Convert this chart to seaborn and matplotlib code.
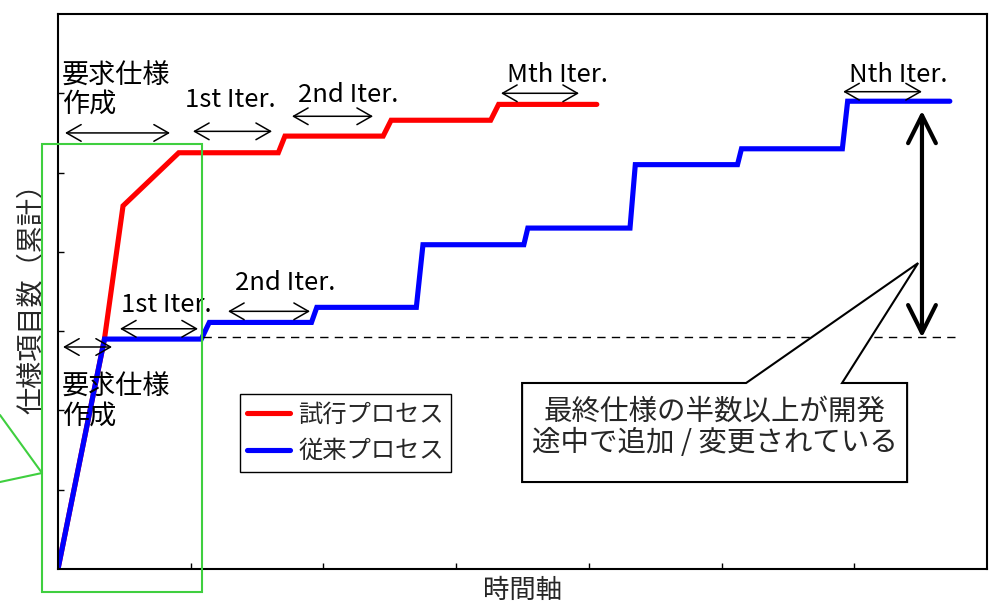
import matplotlib
matplotlib.use("Agg")
import matplotlib.pyplot as plt
import seaborn as sns
import pandas as pd
from matplotlib.patches import Polygon, Rectangle
from matplotlib.lines import Line2D

# ---------------- data ----------------
trial_x = [0, 0.35, 0.49, 0.91, 1.66, 1.71, 2.45, 2.51, 3.26, 3.32, 4.06]
trial_y = [0, 2.90, 4.58, 5.25, 5.25, 5.46, 5.46, 5.66, 5.66, 5.86, 5.86]
conv_x = [0, 0.35, 1.08, 1.14, 1.91, 1.95, 2.70, 2.75, 3.51, 3.54, 4.31, 4.35, 5.12, 5.15, 5.91, 5.95, 6.72]
conv_y = [0, 2.90, 2.90, 3.11, 3.11, 3.30, 3.30, 4.09, 4.09, 4.30, 4.30, 5.10, 5.10, 5.30, 5.30, 5.90, 5.90]
series_names = ["試行プロセス", "従来プロセス"]
series_colors = ["#ff0000", "#0000ff"]
baseline_x = [1.09, 6.76]
baseline_y = [2.92, 2.92]
xlabel = "時間軸"
ylabel = "仕様項目数（累計）"
callout_text = "最終仕様の半数以上が開発\n途中で追加 / 変更されている"

df = pd.concat([
    pd.DataFrame({"t": trial_x, "v": trial_y, "series": series_names[0]}),
    pd.DataFrame({"t": conv_x, "v": conv_y, "series": series_names[1]}),
], ignore_index=True)

# ---------------- style ----------------
sns.set_style("white")
plt.rcParams["font.family"] = ["Noto Sans CJK JP", "DejaVu Sans"]

fig = plt.figure(figsize=(9.99, 6.07), dpi=100)
W, H = 999, 607
ax = fig.add_axes([58 / W, 1 - 569 / H, (987 - 58) / W, (569 - 14) / H])

sns.lineplot(data=df, x="t", y="v", hue="series", hue_order=series_names,
             palette=series_colors, sort=False, estimator=None, lw=3.7,
             ax=ax, legend=True)
for ln in ax.lines:
    ln.set_solid_capstyle("round")
    ln.set_solid_joinstyle("miter")

ax.plot(baseline_x, baseline_y, color="black", lw=1.0, ls=(0, (6, 4.5)))

ax.set_xlim(0, 7)
ax.set_ylim(0, 7)
ax.set_xticks([1, 2, 3, 4, 5, 6])
ax.set_yticks([1, 2, 3, 4, 5, 6])
ax.set_xticklabels([])
ax.set_yticklabels([])
ax.tick_params(direction="in", length=4, width=1, colors="black",
               bottom=True, left=True, top=False, right=False)
for s in ax.spines.values():
    s.set_color("black")
    s.set_linewidth(1.5)

ax.set_xlabel(xlabel, fontsize=19, labelpad=2)
ax.set_ylabel(ylabel, fontsize=19.5, labelpad=6)

# legend
h, l = ax.get_legend_handles_labels()
leg = ax.legend(h, l, loc="upper left", bbox_to_anchor=(0.196, 0.315),
                fontsize=17.5, frameon=True, fancybox=False, edgecolor="black",
                framealpha=1, borderaxespad=0, handlelength=1.75,
                handletextpad=0.35, borderpad=0.3, labelspacing=0.45)
leg.get_frame().set_linewidth(1.0)
for lh in leg.get_lines():
    lh.set_linewidth(3.7)

# ---------------- annotations ----------------
def darrow(x0, x1, y):
    ax.annotate("", xy=(x1, y), xytext=(x0, y),
                arrowprops=dict(arrowstyle="<->,head_length=0.7,head_width=0.4",
                                mutation_scale=15, lw=1.1, color="black",
                                shrinkA=0, shrinkB=0))

jp = dict(fontsize=19.5, color="black", linespacing=1.05)
it = dict(fontsize=18.5, color="black", ha="center", va="center")

# upper (trial process)
ax.text(0.03, 6.04, "要求仕様\n作成", ha="left", va="center", **jp)
darrow(0.053, 0.844, 5.50)
ax.text(1.30, 5.91, "1st Iter.", **it)
darrow(1.017, 1.613, 5.52)
ax.text(2.19, 5.98, "2nd Iter.", **it)
darrow(1.763, 2.374, 5.71)
ax.text(3.76, 6.23, "Mth Iter.", **it)
darrow(3.338, 3.926, 6.00)
ax.text(6.33, 6.23, "Nth Iter.", **it)
darrow(5.916, 6.51, 6.02)

# lower (conventional process)
ax.text(0.03, 2.11, "要求仕様\n作成", ha="left", va="center", **jp)
darrow(0.038, 0.407, 2.80)
ax.text(0.814, 3.33, "1st Iter.", **it)
darrow(0.467, 1.055, 3.03)
ax.text(1.71, 3.61, "2nd Iter.", **it)
darrow(1.281, 1.899, 3.25)

# thick double arrow
ax.annotate("", xy=(6.51, 5.78), xytext=(6.51, 2.92),
            arrowprops=dict(arrowstyle="<->,head_length=1.0,head_width=0.5",
                            mutation_scale=20, lw=3, color="black",
                            shrinkA=0, shrinkB=0))

# callout bubble
bubble = Polygon([(3.497, 2.346), (5.185, 2.346), (6.481, 3.859), (5.908, 2.346),
                  (6.398, 2.346), (6.398, 1.097), (3.497, 1.097)],
                 closed=True, facecolor="white", edgecolor="black", lw=1.5,
                 joinstyle="miter", zorder=5)
ax.add_patch(bubble)
ax.text(4.948, 1.79, callout_text, ha="center", va="center", fontsize=20.5,
        linespacing=1.05, zorder=6)

# green highlight rectangle and pointer lines (figure coords)
green = "#3fcf3f"
fig.add_artist(Rectangle((42 / W, 1 - 592 / H), 160 / W, 448 / H, fill=False,
                         edgecolor=green, lw=1.5, transform=fig.transFigure,
                         clip_on=False))
fig.add_artist(Line2D([0, 42 / W], [1 - 415 / H, 1 - 473 / H], color=green, lw=1.5,
                      transform=fig.transFigure))
fig.add_artist(Line2D([0, 42 / W], [1 - 482 / H, 1 - 473 / H], color=green, lw=1.5,
                      transform=fig.transFigure))

fig.savefig("out.png", dpi=100, facecolor="white")
